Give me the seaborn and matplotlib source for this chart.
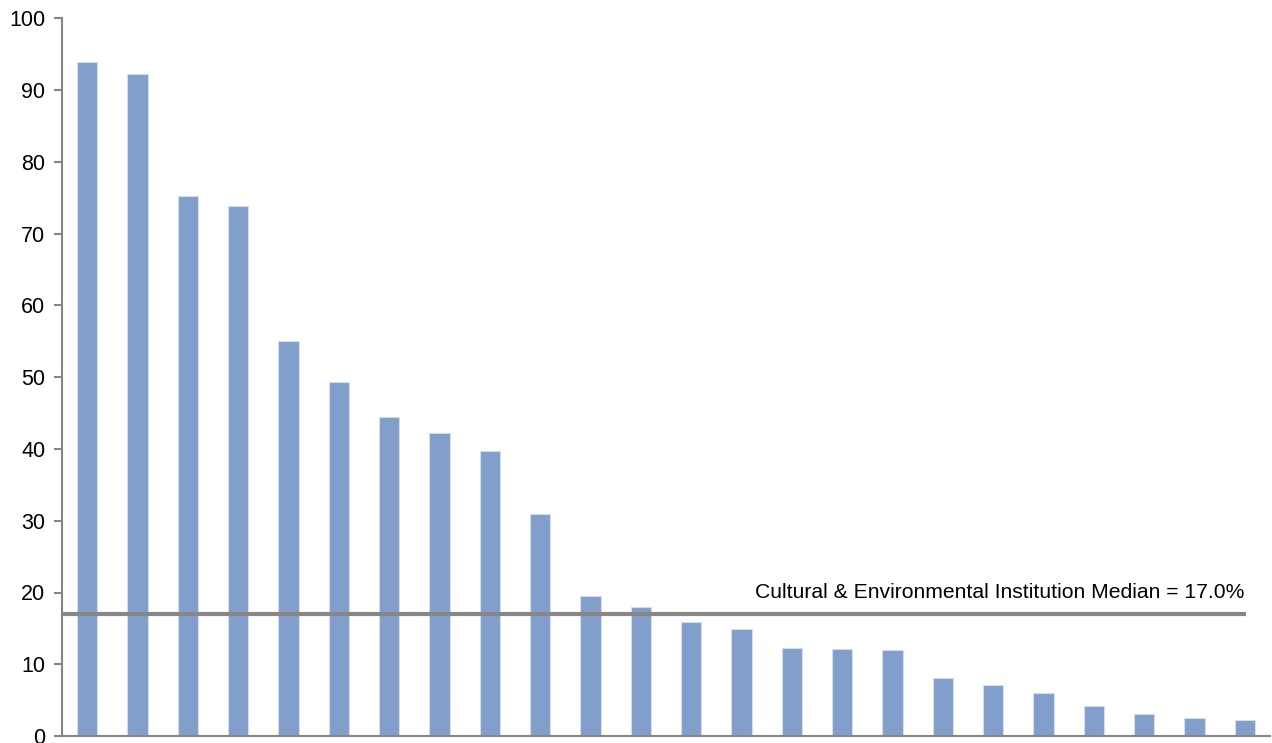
import matplotlib
matplotlib.use("Agg")
import matplotlib.pyplot as plt
import seaborn as sns
import pandas as pd

# Institutions ranked by share (%)
institutions = [f"Institution {i}" for i in range(1, 25)]
shares = [94.0, 92.2, 75.3, 73.9, 55.1, 49.4, 44.4, 42.2, 39.7, 31.0,
          19.5, 18.0, 15.9, 14.9, 12.3, 12.1, 12.0, 8.1, 7.1, 6.0,
          4.2, 3.1, 2.5, 2.2]
median_value = 17.0
median_label = "Cultural & Environmental Institution Median = 17.0%"
y_ticks = [0, 10, 20, 30, 40, 50, 60, 70, 80, 90, 100]

df = pd.DataFrame({"institution": institutions, "share": shares})

sns.set_theme(style="white")
plt.rcParams["font.family"] = ["Liberation Sans", "DejaVu Sans"]

fig = plt.figure(figsize=(12.72, 7.43), dpi=100)
ax = fig.add_axes([62 / 1272, 7 / 743, (1270 - 62) / 1272, (736 - 18.5) / 743])

sns.barplot(data=df, x="institution", y="share", ax=ax, color="#829ECB",
            saturation=1, width=0.4, edgecolor="#d3ddee", linewidth=0.8)

# Median reference line with its label
ax.plot([-0.5, 23.03], [median_value, median_value], color="#878787",
        linewidth=3, solid_capstyle="butt", zorder=3)
ax.annotate(median_label, xy=(23.0, median_value), xytext=(0, 15.5),
            textcoords="offset points", ha="right", va="center",
            fontsize=15.2, color="#000000")

ax.set_xlim(-0.5, len(institutions) - 0.5)
ax.set_ylim(0, 100)
ax.set_yticks(y_ticks)
ax.set_yticklabels([str(t) for t in y_ticks], fontsize=15.5, color="#000000")
ax.set_xticks([])
ax.set_xlabel("")
ax.set_ylabel("")

for side in ("top", "right"):
    ax.spines[side].set_visible(False)
for side in ("left", "bottom"):
    ax.spines[side].set_color("#868686")
    ax.spines[side].set_linewidth(1.5)

ax.tick_params(axis="y", which="major", direction="out", length=6,
               width=1.5, color="#868686", pad=6, left=True)

fig.savefig("out.png", dpi=100)
